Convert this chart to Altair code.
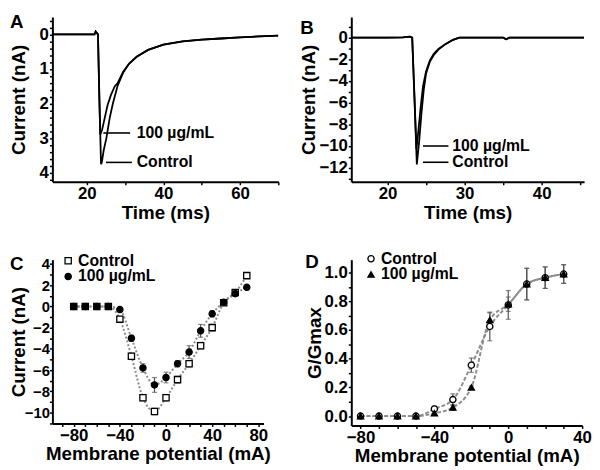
import altair as alt
import pandas as pd

FONT = "Liberation Sans"
CTRL = "Control"
DRUG = "100 µg/mL"

# ---------------- Panel A: current traces (ms, nA) ----------------
a_ctrl_t = [11, 15, 20, 22.0, 22.3, 22.9, 23.3, 23.7, 23.9, 24.4, 25.1, 26.0, 26.8, 28.0,
            29.5, 31.0, 33.0, 36.0, 40.0, 45.0, 50.0, 55.0, 60.0, 65.0, 70.0]
a_ctrl_i = [0, 0, 0, 0, -0.08, 0, 2.0, 3.75, 3.7, 3.35, 3.0, 2.4, 2.0, 1.5,
            1.1, 0.85, 0.65, 0.45, 0.3, 0.2, 0.15, 0.12, 0.09, 0.06, 0.04]
a_drug_t = [11, 15, 20, 22.0, 22.3, 22.9, 23.3, 23.5, 24.0, 24.6, 25.4, 26.3, 27.3, 28.0,
            29.5, 31.0, 33.0, 36.0, 40.0, 45.0, 50.0, 55.0, 60.0, 65.0, 70.0]
a_drug_i = [0, 0, 0, 0, -0.08, 0, 2.0, 2.9, 2.75, 2.45, 2.05, 1.75, 1.5, 1.42,
            1.08, 0.85, 0.65, 0.45, 0.3, 0.2, 0.15, 0.12, 0.09, 0.06, 0.04]

# ---------------- Panel B: current traces (ms, nA) ----------------
b_ctrl_t = [15.3, 18, 20, 22.0, 22.9, 23.2, 23.5, 23.8, 24.1, 24.4, 24.7, 25.0, 25.5,
            26.0, 26.6, 27.5, 28.5, 29.3, 32, 35, 35.4, 35.8, 40, 45.5]
b_ctrl_i = [0, 0, 0, 0.02, 0.1, 0, -5.8, -11.7, -9.6, -7.0, -4.8, -3.3, -2.2,
            -1.6, -1.1, -0.6, -0.2, 0, 0, 0, -0.15, 0, 0, 0]
b_drug_t = [15.3, 18, 20, 22.0, 22.9, 23.2, 23.5, 23.75, 24.0, 24.3, 24.6, 25.0, 25.5,
            26.0, 26.6, 27.5, 28.5, 29.3, 32, 35, 35.4, 35.8, 40, 45.5]
b_drug_i = [0, 0, 0, 0.02, 0.1, 0, -5.5, -10.3, -8.6, -6.4, -4.5, -3.1, -2.1,
            -1.5, -1.05, -0.6, -0.2, 0, 0, 0, -0.15, 0, 0, 0]

# ---------------- Panel C: I-V relation ----------------
volt_c = [-80, -70, -60, -50, -40, -30, -20, -10, 0, 10, 20, 30, 40, 50, 60, 70]
c_ctrl = [0, 0, 0, 0, -1.2, -4.7, -8.6, -9.9, -8.6, -6.9, -5.4, -3.7, -2.0, 0.35, 1.3, 2.9]
c_drug = [0, 0, 0, 0, -0.3, -3.0, -5.8, -7.4, -6.7, -5.4, -4.3, -2.3, -0.7, 0.4, 1.2, 1.8]
c_ctrl_err = [0, 0, 0, 0, 0.2, 0.3, 0.3, 0.3, 0.3, 0.3, 0.3, 0.3, 0.3, 0.2, 0.2, 0.2]
c_drug_err = [0, 0, 0, 0, 0.2, 0.3, 0.4, 0.7, 0.5, 0.3, 0.6, 0.6, 0.3, 0.2, 0.2, 0.2]

# ---------------- Panel D: activation curve ----------------
volt_d = [-80, -70, -60, -50, -40, -30, -20, -10, 0, 10, 20, 30]
d_ctrl = [0, 0, 0, 0, 0.05, 0.115, 0.355, 0.625, 0.775, 0.92, 0.965, 0.99]
d_drug = [0, 0, 0, 0, 0.02, 0.06, 0.2, 0.67, 0.78, 0.92, 0.965, 0.99]
d_ctrl_err = [0, 0, 0, 0, 0.02, 0.04, 0.05, 0.1, 0.1, 0.11, 0.075, 0.065]
d_drug_err = [0, 0, 0, 0, 0.01, 0.02, 0.01, 0.05, 0.05, 0.11, 0.075, 0.065]

# ---------------- axis ticks (all ticks / labelled ticks) ----------------
a_x_ticks = [20, 30, 40, 50, 60, 70]
a_x_labels = [20, 40, 60]
a_y_ticks = [-0.4, -0.2, 0, 0.2, 0.4, 0.6, 0.8, 1, 1.2, 1.4, 1.6, 1.8, 2, 2.2, 2.4, 2.6,
             2.8, 3, 3.2, 3.4, 3.6, 3.8, 4, 4.2]
a_y_labels = [0, 1, 2, 3, 4]
b_x_ticks = [20, 25, 30, 35, 40, 45]
b_x_labels = [20, 30, 40]
b_y_ticks = [1, 0, -1, -2, -3, -4, -5, -6, -7, -8, -9, -10, -11, -12, -13]
b_y_labels = [0, -2, -4, -6, -8, -10, -12]
c_x_ticks = [-90, -80, -70, -60, -50, -40, -30, -20, -10, 0, 10, 20, 30, 40, 50, 60, 70, 80]
c_x_labels = [-80, -40, 0, 40, 80]
c_y_ticks = [4, 3, 2, 1, 0, -1, -2, -3, -4, -5, -6, -7, -8, -9, -10, -11]
c_y_labels = [4, 2, 0, -2, -4, -6, -8, -10]
d_x_ticks = [-80, -70, -60, -50, -40, -30, -20, -10, 0, 10, 20, 30, 40]
d_x_labels = [-80, -40, 0, 40]
d_y_ticks = [0, 0.1, 0.2, 0.3, 0.4, 0.5, 0.6, 0.7, 0.8, 0.9, 1.0]
d_y_labels = [0, 0.2, 0.4, 0.6, 0.8, 1.0]

# annotation label positions (data units) for panels A and B
a_lab_y = [2.85, 3.7]
a_line_x = [24.3, 25.0]
a_line_x2 = [31.3, 31.75]
a_text_x = [33.0, 33.0]
b_lab_y = [-10.0, -11.5]
b_line_x = [24.6, 24.6]
b_line_x2 = [27.9, 27.9]
b_text_x = [28.4, 28.4]


def traces(t1, i1, t2, i2):
    return pd.DataFrame({"x": t1 + t2, "y": i1 + i2,
                         "series": [CTRL] * len(t1) + [DRUG] * len(t2)})


def points(v, c, d, ce, de):
    n = len(v)
    vals = c + d
    errs = ce + de
    return pd.DataFrame({"x": v + v, "y": vals,
                         "lo": [a - e for a, e in zip(vals, errs)],
                         "hi": [a + e for a, e in zip(vals, errs)],
                         "series": [CTRL] * n + [DRUG] * n})


def ax(ticks, labels, title, **kw):
    expr = "indexof(" + str(labels) + ", datum.value) >= 0 ? datum.label : ''"
    return alt.Axis(values=ticks, labelExpr=expr, title=title, **kw)


def letter(s):
    return alt.TitleParams(s, anchor="start", frame="bounds", font=FONT, fontSize=19,
                           fontWeight="bold", color="black", offset=-12, dy=9)


def trace_panel(df, xs, ys, xt, yt, lab_y, lx, lx2, tx, w, h, title):
    x = alt.X("x:Q", scale=xs, axis=xt)
    y = alt.Y("y:Q", scale=ys, axis=yt)
    lines = alt.Chart(df).mark_line(color="black", strokeWidth=1.8, clip=True).encode(
        x=x, y=y, detail="series:N")
    rdf = pd.DataFrame({"x": lx, "x2": lx2, "y": lab_y})
    rules = alt.Chart(rdf).mark_rule(color="black", strokeWidth=1.6).encode(
        x=x, x2="x2:Q", y=y)
    tdf = pd.DataFrame({"x": tx, "y": lab_y, "label": [DRUG, CTRL]})
    texts = alt.Chart(tdf).mark_text(align="left", baseline="middle", font=FONT,
                                     fontSize=16, fontWeight="bold", color="black").encode(
        x=x, y=y, text="label:N")
    return alt.layer(lines, rules, texts).properties(width=w, height=h, title=letter(title))


def iv_panel(df, xs, ys, xt, yt, shapes, dash, w, h, title, lx, ly):
    x = alt.X("x:Q", scale=xs, axis=xt)
    y = alt.Y("y:Q", scale=ys, axis=yt)
    leg = alt.Legend(orient="none", legendX=lx, legendY=ly, title=None, labelFont=FONT,
                     labelFontSize=16, labelFontWeight="bold", labelColor="black",
                     symbolSize=40, symbolStrokeWidth=1.3,
                     rowPadding=0, labelOffset=2, padding=0)
    dom = [CTRL, DRUG]
    line = alt.Chart(df).mark_line(color="#8c8c8c", strokeWidth=2, strokeDash=dash,
                                   interpolate="monotone").encode(x=x, y=y, detail="series:N")
    err = alt.Chart(df).mark_rule(color="#555555", strokeWidth=1.2).encode(
        x=x, y=alt.Y("lo:Q", scale=ys, axis=yt), y2="hi:Q")
    cap_lo = alt.Chart(df).mark_tick(color="#555555", thickness=1.2, size=5,
                                     orient="horizontal").encode(
        x=x, y=alt.Y("lo:Q", scale=ys, axis=yt))
    cap_hi = alt.Chart(df).mark_tick(color="#555555", thickness=1.2, size=5,
                                     orient="horizontal").encode(
        x=x, y=alt.Y("hi:Q", scale=ys, axis=yt))
    pts = alt.Chart(df).mark_point(filled=True, strokeWidth=1.3, size=40,
                                   opacity=1).encode(
        x=x, y=y,
        shape=alt.Shape("series:N", scale=alt.Scale(domain=dom, range=shapes), legend=leg),
        fill=alt.Fill("series:N", scale=alt.Scale(domain=dom, range=["white", "black"]),
                      legend=leg),
        stroke=alt.Stroke("series:N", scale=alt.Scale(domain=dom, range=["black", "black"]),
                          legend=leg))
    return alt.layer(line, err, cap_lo, cap_hi, pts).properties(width=w, height=h,
                                                                 title=letter(title))


YEXT = 24

# ---------------- build panels ----------------
A = trace_panel(
    traces(a_ctrl_t, a_ctrl_i, a_drug_t, a_drug_i),
    alt.Scale(domain=[11, 70], nice=False, zero=False),
    alt.Scale(domain=[-0.5, 4.26], nice=False, zero=False, reverse=True),
    ax(a_x_ticks, a_x_labels, "Time (ms)"),
    ax(a_y_ticks, a_y_labels, "Current (nA)", format=".0f", minExtent=YEXT, maxExtent=YEXT),
    a_lab_y, a_line_x, a_line_x2, a_text_x, 229, 167, "A")

B = trace_panel(
    traces(b_ctrl_t, b_ctrl_i, b_drug_t, b_drug_i),
    alt.Scale(domain=[15.3, 45.5], nice=False, zero=False),
    alt.Scale(domain=[-13.3, 1.9], nice=False, zero=False),
    ax(b_x_ticks, b_x_labels, "Time (ms)"),
    ax(b_y_ticks, b_y_labels, "Current (nA)"),
    b_lab_y, b_line_x, b_line_x2, b_text_x, 236, 167, "B")

C = iv_panel(
    points(volt_c, c_ctrl, c_drug, c_ctrl_err, c_drug_err),
    alt.Scale(domain=[-98.5, 84.5], nice=False, zero=False),
    alt.Scale(domain=[-11.03, 4.4], nice=False, zero=False),
    ax(c_x_ticks, c_x_labels, "Membrane potential (mA)"),
    ax(c_y_ticks, c_y_labels, "Current (nA)", labelFontSize=15,
       labelPadding=0, minExtent=YEXT, maxExtent=YEXT, titlePadding=0),
    ["square", "circle"], [2, 2], 214, 166, "C", 8, -7)

D = iv_panel(
    points(volt_d, d_ctrl, d_drug, d_ctrl_err, d_drug_err),
    alt.Scale(domain=[-85, 40], nice=False, zero=False),
    alt.Scale(domain=[-0.065, 1.09], nice=False, zero=False),
    ax(d_x_ticks, d_x_labels, "Membrane potential (mA)"),
    ax(d_y_ticks, d_y_labels, "G/Gmax", format=".1f"),
    ["circle", "triangle-up"], [4, 2], 234, 168, "D", 12, -9)

chart = alt.concat(A, B, C, D, columns=2, spacing={"row": 79, "column": 74},
                   bounds="flush", align="each").resolve_scale(
    shape="independent", fill="independent", stroke="independent"
).properties(
    padding={"left": 2, "top": 0, "right": 0, "bottom": 0}
).configure_axis(
    domainColor="black", domainWidth=2, tickColor="black", tickWidth=1.5, tickSize=3,
    labelFont=FONT, labelFontSize=17, labelFontWeight="bold", labelColor="black",
    titleFont=FONT, titleFontSize=19, titleFontWeight="bold", titleColor="black",
    grid=False, labelPadding=1, titlePadding=0, labelFlush=False, labelOverlap=False
).configure_axisX(titlePadding=2).configure_view(stroke=None)

chart.save("out.html", embed_options={"renderer": "svg", "actions": False})
